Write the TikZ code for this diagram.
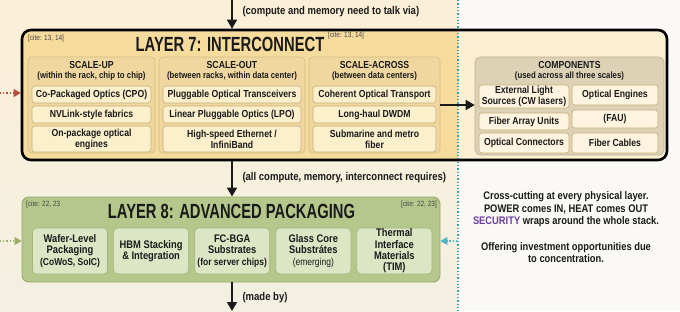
\documentclass[tikz,border=0pt]{standalone}
\usepackage{fontspec}
\setmainfont{Liberation Sans}[FakeStretch=0.85]
\newfontfamily\headfont{Liberation Sans}[FakeStretch=0.72]
\usetikzlibrary{arrows.meta,positioning,calc}
\definecolor{ink}{HTML}{1A1A1A}
\definecolor{creamtop}{HTML}{FCEFD7}
\definecolor{creambot}{HTML}{F3F0E2}
\definecolor{paper}{HTML}{FAF9F5}
\definecolor{goldleft}{HTML}{F6DC9C}
\definecolor{goldright}{HTML}{FDF0D2}
\definecolor{colfill}{HTML}{EFD79F}
\definecolor{colline}{HTML}{D3BB85}
\definecolor{itemfill}{HTML}{FBEFCC}
\definecolor{itemline}{HTML}{C8AE78}
\definecolor{compfill}{HTML}{DDD2B6}
\definecolor{compline}{HTML}{BCAF93}
\definecolor{pkgfill}{HTML}{B6C78C}
\definecolor{pkgline}{HTML}{93A966}
\definecolor{pkgitem}{HTML}{DCE5C4}
\definecolor{pkgitemline}{HTML}{A3B57A}
\definecolor{feedred}{HTML}{B2503C}
\definecolor{feedgreen}{HTML}{9BAE6E}
\definecolor{feedcyan}{HTML}{4DB6C6}
\definecolor{divider}{HTML}{3B9EAF}
\definecolor{secpurple}{HTML}{6B3FA0}
\newcommand{\itemsize}{\fontsize{10.2}{10.8}\selectfont\bfseries}
\newcommand{\pkgsize}{\fontsize{11}{11.3}\selectfont\bfseries}
\newcommand{\labelsize}{\fontsize{11.2}{12}\selectfont\bfseries}
\newcommand{\notesize}{\fontsize{11}{12.5}\selectfont\bfseries}
\newcommand{\subsize}{\fontsize{9.2}{10}\selectfont\bfseries}
\newcommand{\pkgsubsize}{\fontsize{10}{11}\selectfont\bfseries}
\newcommand{\citesize}{\fontsize{7.6}{8}\selectfont\mdseries}
\newcommand{\titlesize}{\headfont\fontsize{20.5}{22}\selectfont\bfseries}
\tikzset{
  colbox/.style={draw=colline, fill=colfill, rounded corners=4pt, line width=0.6pt,
                 minimum height=96pt, inner sep=0pt},
  itembox/.style={draw=itemline, fill=itemfill, rounded corners=3pt, line width=0.6pt,
                  align=center, inner sep=0pt, font=\itemsize},
  compbox/.style={itembox, fill=goldright!70!white},
  pkgbox/.style={draw=pkgitemline, fill=pkgitem, rounded corners=4pt, line width=0.6pt,
                 align=center, inner sep=0pt, minimum width=75pt, minimum height=46pt,
                 font=\pkgsize},
  flow/.style={-{Triangle[length=9pt,width=10pt]}, line width=1.6pt, draw=ink},
  feed/.style={-{Triangle[length=7pt,width=8pt]}, line width=1.2pt, dotted},
  flowlabel/.style={anchor=west, font=\labelsize},
  cite/.style={font=\citesize, text=ink!80, inner sep=0pt}
}

\begin{document}
\begin{tikzpicture}[x=1pt,y=-1pt,font=\itemsize,text=ink]
  \useasboundingbox (0,0) rectangle (680,311);
  % backgrounds
  \shade[top color=creamtop, bottom color=creambot] (0,0) rectangle (458,311);
  \fill[paper] (458,0) rectangle (680,311);
  \fill[goldright, rounded corners=9pt] (22,30) rectangle (667,160);
  \begin{scope}
    \clip (0,0) rectangle (458,311);
    \fill[goldleft, rounded corners=9pt] (22,30) rectangle (667,160);
  \end{scope}
  \draw[divider, line width=1.3pt, dotted] (458,0) -- (458,311);

  % layer 7
  \node[draw=black, line width=2.6pt, rounded corners=9pt, minimum width=645pt,
        minimum height=130pt] (l7) at (344.5,95) {};
  \node[font=\titlesize] (l7title) at (230,44.5) {LAYER 7: INTERCONNECT};
  \node[cite, anchor=west] (l7citeL) at (28,39) {[cite: 13, 14]};
  \node[cite, anchor=west] (l7citeR) at (328,36) {[cite: 13, 14]};

  \foreach \n/\cx/\w/\head/\sub in {up/91.5/127/SCALE-UP/{(within the rack, chip to chip)},
      out/232/146/SCALE-OUT/{(between racks, within data center)},
      across/374.5/131/SCALE-ACROSS/{(between data centers)}} {
    \node[colbox, minimum width=\w pt] (\n) at (\cx,105) {};
    \node[inner sep=0pt] (\n-head) at (\cx,65) {\head};
    \node[inner sep=0pt, font=\subsize] (\n-sub) at (\cx,76) {\sub};
  }
  \foreach \n/\cx/\w/\a/\b/\c in {up/91.5/127/{Co-Packaged Optics (CPO)}/{NVLink-style fabrics}/{On-package optical\\engines},
      out/232/146/{Pluggable Optical Transceivers}/{Linear Pluggable Optics (LPO)}/{High-speed Ethernet /\\InfiniBand},
      across/374.5/131/{Coherent Optical Transport}/{Long-haul DWDM}/{Submarine and metro\\fiber}} {
    \node[itembox, minimum width=\w pt-8pt, minimum height=17pt] (\n-1) at (\cx,94.5) {\a};
    \node[itembox, minimum width=\w pt-8pt, minimum height=17pt] (\n-2) at (\cx,114.5) {\b};
    \node[itembox, minimum width=\w pt-8pt, minimum height=26pt] (\n-3) at (\cx,139) {\c};
  }

  % components
  \node[draw=compline, fill=compfill, rounded corners=5pt, line width=0.6pt,
        minimum width=189pt, minimum height=98pt] (comp) at (569.5,106) {};
  \node[inner sep=0pt] (comp-head) at (569.5,65) {COMPONENTS};
  \node[inner sep=0pt, font=\subsize] (comp-sub) at (569.5,76) {(used across all three scales)};
  \node[compbox, minimum width=90pt, minimum height=23pt] (els) at (524,96.5) {External Light\\Sources (CW lasers)};
  \node[compbox, minimum width=90pt, minimum height=17pt] (fau) at (524,121.5) {Fiber Array Units};
  \node[compbox, minimum width=90pt, minimum height=20pt] (conn) at (524,143) {Optical Connectors};
  \node[compbox, minimum width=86pt, minimum height=20pt] (engines) at (615,95) {Optical Engines};
  \node[compbox, minimum width=86pt, minimum height=18pt] (faushort) at (615,119) {(FAU)};
  \node[compbox, minimum width=86pt, minimum height=20pt] (cables) at (615,143) {Fiber Cables};
  \draw[flow] (across.east) -- (across.east -| comp.west);

  % layer 8
  \node[draw=pkgline, fill=pkgfill, rounded corners=7pt, line width=0.9pt,
        minimum width=418pt, minimum height=85pt] (l8) at (231,239.5) {};
  \node[font=\titlesize] (l8title) at (231.5,211.5) {LAYER 8: ADVANCED PACKAGING};
  \node[cite, anchor=west] (l8citeL) at (26,205) {[cite: 22, 23};
  \node[cite, anchor=east] (l8citeR) at (437,205) {[cite: 22, 23]};
  \foreach \i/\t in {0/{Wafer-Level\\Packaging\\{\pkgsubsize(CoWoS, SoIC)}},
      1/{HBM Stacking\\\& Integration},
      2/{FC-BGA\\Substrates\\{\pkgsubsize(for server chips)}},
      3/{Glass Core\\Substrátes\\{\pkgsubsize\mdseries(emerging)}},
      4/{Thermal\\Interface\\Materials\\(TIM)}} {
    \node[pkgbox] (pkg\i) at (70+81.1*\i,251) {\t};
  }

  % flow between layers
  \coordinate (top) at (232,0);
  \coordinate (bottom) at (232,311);
  \draw[flow] (top) -- (top |- l7.north);
  \draw[flow] (top |- l7.south) -- (top |- l8.north);
  \draw[flow] (top |- l8.south) -- (bottom);
  \node[flowlabel] (talkvia) at (239,12) {(compute and memory need to talk via)};
  \node[flowlabel] (requires) at (239,178) {(all compute, memory, interconnect requires)};
  \node[flowlabel] (madeby) at (239,298) {(made by)};

  % side feeds
  \coordinate (feedA) at (0,93);
  \coordinate (feedB) at (0,241);
  \coordinate (feedC) at (457,241);
  \draw[feed, feedred] (feedA) -- (feedA -| l7.west);
  \draw[feed, feedgreen] (feedB) -- (feedB -| l8.west);
  \draw[feed, feedcyan] (feedC) -- (feedC -| l8.east);

  % cross-cutting note
  \node[align=center, font=\notesize] (note) at (566,209.5)
    {Cross-cutting at every physical layer.\\POWER comes IN, HEAT comes OUT\\
     \textcolor{secpurple}{SECURITY} wraps around the whole stack.};
  \node[align=center, font=\notesize, below=8pt of note] (offer)
    {Offering investment opportunities due\\to concentration.};
\end{tikzpicture}
\end{document}
